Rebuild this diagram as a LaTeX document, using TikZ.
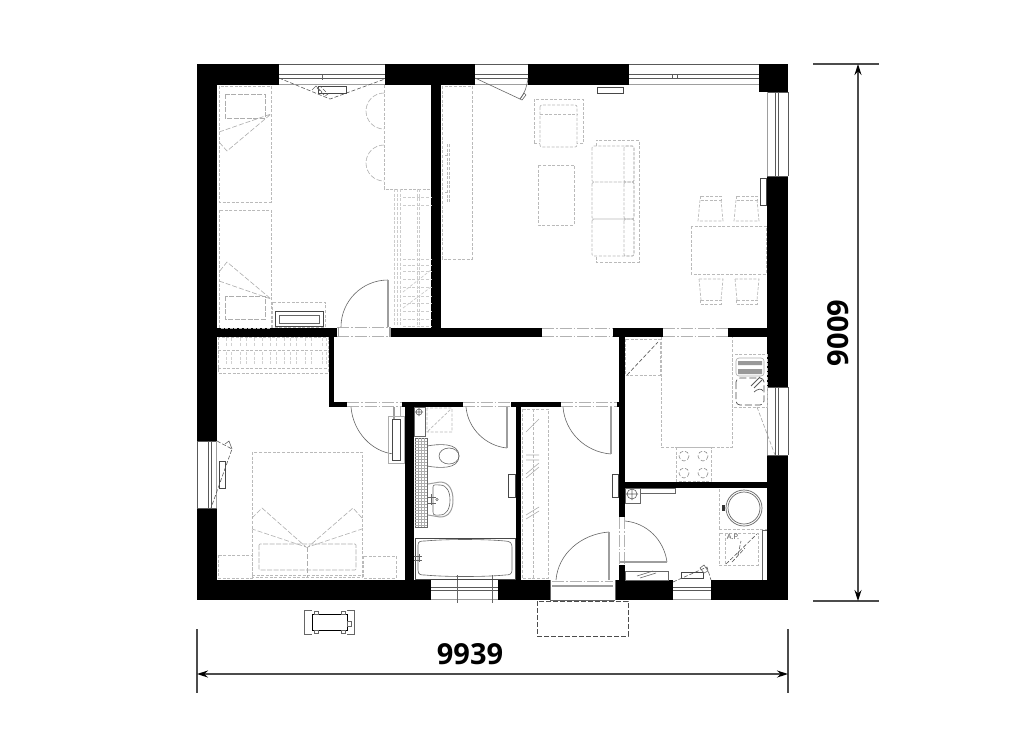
\documentclass[tikz,border=0pt]{standalone}
\usepackage{fontspec}
\setmainfont{Open Sans}
\usetikzlibrary{arrows.meta}
\tikzset{
 wall/.style={fill=black,draw=none},
 fur/.style={draw=black!27,line width=.7pt,dash pattern=on 3pt off 1.6pt},
 furd/.style={draw=black!27,line width=1pt,dash pattern=on 3pt off 1.6pt},
 fine/.style={draw=black!60,line width=.6pt},
 soft/.style={draw=black!32,line width=.6pt},
 dk/.style={draw=black!72,line width=.9pt},
 leaf/.style={draw=black!38,line width=1.2pt},
 thr/.style={draw=black!30,line width=1pt,dash pattern=on 12pt off 2pt on 1.5pt off 2pt},
 win/.style={draw=black!65,line width=.7pt},
 swing/.style={draw=black!65,line width=.6pt,dash pattern=on 4pt off 2pt},
 dim/.style={draw=black!70,line width=1.1pt},
 dimtip/.style={dim,{Stealth[length=11pt,width=7pt,black]}-{Stealth[length=11pt,width=7pt,black]}},
 numb/.style={font=\fontsize{29}{29}\selectfont\bfseries,inner sep=0pt,text=black}
}
\begin{document}
\begin{tikzpicture}[x=1pt,y=-1pt]
\useasboundingbox (0,0) rectangle (1017,745);
\fill[white] (0,0) rectangle (1017,745);
% ---- walls
\fill[wall] (197,64) rectangle (279,85);
\fill[wall] (385,64) rectangle (475,85);
\fill[wall] (528,64) rectangle (629,85);
\fill[wall] (759,64) rectangle (788,92);
\fill[wall] (197,64) rectangle (217,441);
\fill[wall] (197,508) rectangle (217,600);
\fill[wall] (767,176) rectangle (788,387);
\fill[wall] (767,455) rectangle (788,600);
\fill[wall] (197,580) rectangle (431,600);
\fill[wall] (498,580) rectangle (550,600);
\fill[wall] (615,580) rectangle (673,600);
\fill[wall] (711,580) rectangle (788,600);
\fill[wall] (431,85) rectangle (441,337);
\fill[wall] (217,327.5) rectangle (337,337);
\fill[wall] (391,327.5) rectangle (542,337);
\fill[wall] (613,327.5) rectangle (663,337);
\fill[wall] (728,327.5) rectangle (767,337);
\fill[wall] (329,337) rectangle (334,407);
\fill[wall] (329,402) rectangle (347,407);
\fill[wall] (402,402) rectangle (463,407);
\fill[wall] (511,402) rectangle (561,407);
\fill[wall] (617,402) rectangle (625,407);
\fill[wall] (405,402) rectangle (414,580);
\fill[wall] (516,402) rectangle (521,580);
\fill[wall] (619,337) rectangle (625,517);
\fill[wall] (619,565) rectangle (625,580);
\fill[wall] (625,482) rectangle (767,488);
% ---- windows
\foreach \a/\b in {279/385,475/528,629/759}{
 \draw[win] (\a,64)--(\b,64) (\a,74)--(\b,74) (\a,78)--(\b,78);
 \draw[leaf] (\a,84.5)--(\b,84.5);}
\draw[win] (672.5,74.5) rectangle (677,78);
\foreach \a/\b in {92/176,387/455}{
 \draw[win] (788,\a)--(788,\b) (775.5,\a)--(775.5,\b) (778.5,\a)--(778.5,\b) (767,\a)--(788,\a) (767,\b)--(788,\b);
 \draw[leaf] (767.5,\a)--(767.5,\b);}
\draw[win] (197,441)--(197,508) (208,441)--(208,508) (211,441)--(211,508) (197,441)--(217,441) (197,508)--(217,508);
\draw[leaf] (216.5,441)--(216.5,508);
\foreach \a/\b in {431/498,673/711}{
 \draw[leaf] (\a,599.5)--(\b,599.5);
 \draw[win] (\a,587)--(\b,587) (\a,590)--(\b,590);}
\draw[fine] (457,575)--(457,603) (492,575)--(492,603);
% ---- door thresholds
\foreach \a/\b/\y in {337/391/327.5,337/391/336.5,542/613/328,542/613/336.5,663/728/328,663/728/336.5,347/402/402.5,347/402/406.5,463/511/402.5,463/511/406.5,561/617/402.5,561/617/406.5}{
 \draw[thr] (\a,\y)--(\b,\y);}
\draw[leaf] (338.5,327)--(338.5,337) (390,327)--(390,337);
\draw[thr] (619.5,517)--(619.5,565) (624.5,517)--(624.5,565);
\draw[fine] (550,580)--(550,600) (615,580)--(615,600);
\draw[leaf] (552,586)--(613,586);
\draw[thr] (552,581)--(613,581);
\draw[fine] (550,600)--(615,600);
% ---- doors
\draw[fine] (341,327) arc[start angle=180,end angle=270,radius=47];
\draw[leaf] (388,280)--(388,327);
\draw[fine] (351,407) .. controls (353,432) and (372,452) .. (394,454);
\draw[leaf] (394,407)--(394,454);
\draw[fine] (466,407) .. controls (468,429) and (486,446) .. (507,448);
\draw[leaf] (507,407)--(507,448);
\draw[fine] (563,407) .. controls (565,432) and (585,452) .. (611,454);
\draw[leaf] (611,407)--(611,454);
\draw[fine] (556,580) .. controls (558,554) and (581,534) .. (609,532);
\draw[leaf] (609,532)--(609,580);
\draw[fine] (625,521) .. controls (647,523) and (664,540) .. (667,562);
\draw[leaf] (620,562)--(667,562);
\draw[fine] (475,78)--(520,99) (520,99) .. controls (525,93) and (527,86) .. (528,78);
\draw[fine] (520,99)--(524,93)--(526,95)--(522,100)--cycle;
% ---- radiators
\foreach \a/\b/\c/\d in {318/86/346/93,597/87/623/93,760/178/766/205,219/461/225/488,392/419/400/460,508/474/515/497,612/474/618/497,681/572/703/578}{
 \draw[dk,fill=white] (\a,\b) rectangle (\c,\d);}
\draw[fine] (322,75)--(322,80);
\draw[soft] (388,416) rectangle (404,463);
\draw[soft] (400,407)--(400,416);
% ---- window swings
\draw[swing] (279,78)--(330,99)--(385,79);
\draw[swing] (317,88)--(325,96)--(328,94)--(320,86);
\draw[fine] (312,90)--(316,86)--(322,92);
\draw[swing] (217,441)--(232,449)--(211,508);
\draw[fine] (225,444)--(229,441)--(232,449);
\draw[swing] (673,582)--(707,567)--(711,580);
\draw[fine] (700,568)--(704,565)--(708,571)--(704,573)--cycle;
\draw[swing,draw=black!35] (757,407)--(775,455);
% ---- bedroom 1
\draw[fur] (219,86) rectangle (271,202) (219,210) rectangle (271,328);
\draw[soft,dash pattern=on 5pt off 1.5pt] (225,94) rectangle (265,118) (225,296) rectangle (265,319);
\draw[soft,dash pattern=on 5pt off 2pt] (219,132)--(271,114)--(227,151)--(219,142);
\draw[soft,dash pattern=on 5pt off 2pt] (219,281)--(271,299)--(227,262)--(219,272);
\draw[furd] (272,302) rectangle (325,327);
\draw[dk] (275,311) rectangle (323,326);
\draw[fine] (279,315) rectangle (319,323);
\draw[soft,dash pattern=on 5pt off 2pt] (384,93) arc[start angle=-90,end angle=-270,radius=18];
\draw[soft,dash pattern=on 5pt off 2pt] (384,145) arc[start angle=-90,end angle=-270,radius=18];
\draw[fur] (384,85)--(384,189)--(431,189);
\foreach \x in {394,397,400,417,419}{\draw[fur,draw=black!20] (\x,189)--(\x,327);}
\foreach \y in {197,205,259,265,271,279,287,296,303,311,319,326}{\draw[fur,draw=black!20] (403,\y)--(431,\y);}
\draw[fur,draw=black!20] (403,292)--(431,270) (403,308)--(431,287);
% ---- living
\draw[fur] (442,86) rectangle (472,259);
\draw[fur] (447,144)--(447,203) (449.5,144)--(449.5,203) (445,155)--(447,155) (445,192)--(447,192);
\draw[fur] (534,143)--(534,99)--(583,99)--(583,143) (534,143)--(540,143) (583,143)--(577,143);
\draw[fur,rounded corners=2pt] (540,105) rectangle (577,147);
\draw[fur] (540,114)--(577,114);
\draw[fur] (538,165) rectangle (574,225);
\draw[fur] (596,146)--(596,140)--(639,140)--(639,262)--(596,262)--(596,256);
\draw[fur,rounded corners=1.5pt] (592,146) rectangle (634,182) (592,182) rectangle (634,219) (592,219) rectangle (634,256);
\draw[fur,rounded corners=2pt] (624,146) rectangle (634,182) (624,182) rectangle (634,219) (624,219) rectangle (634,256);
\draw[fur] (691,226) rectangle (766,274);
\foreach \x in {0,36}{
 \draw[fur] (700+\x,196) rectangle (721+\x,200);
 \draw[fur] (700+\x,200)--(698+\x,221)--(723+\x,221)--(721+\x,200);
 \draw[fur] (700+\x,300) rectangle (721+\x,304);
 \draw[fur] (699+\x,279)--(723+\x,279)--(721+\x,300) (699+\x,279)--(701+\x,300);}
% ---- bedroom 2
\draw[fur] (218,337) rectangle (328,373);
\draw[fur] (218,368)--(328,368) (218,350)--(328,350);
\foreach \x in {226,231,240,246,254,262,270,276,284,290,296,305,311,322,326}{\draw[fur,draw=black!18] (\x,338)--(\x,347) (\x,352)--(\x,365);}
\draw[fur] (252,452) rectangle (362,577);
\draw[fur] (252,575)--(362,575);
\draw[soft,dash pattern=on 5pt off 1.5pt,rounded corners=1pt] (259,544) rectangle (356,570);
\draw[soft,dash pattern=on 5pt off 2pt] (307,547)--(307,577);
\draw[soft,dash pattern=on 5pt off 2pt] (252,518)--(262,508)--(306,547)--(252,529);
\draw[soft,dash pattern=on 5pt off 2pt] (362,518)--(353,508)--(308,547)--(362,529);
\draw[fur] (218,555) rectangle (252,578) (363,556) rectangle (396,578);
% ---- bathroom
\draw[fine,fill=white] (414,407) rectangle (425,436);
\draw[fine] (419,412) circle[radius=3] (415,412)--(423,412) (419,408)--(419,416);
\draw[fur] (427,408) rectangle (452,432) (428,431)--(451,409);
\draw[fine] (415,438) rectangle (427,527);
\foreach \x in {418,421,424}{\draw[soft] (\x,438)--(\x,527);}
\foreach \y in {441,444,447,450,453,456,459,462,465,468,471,474,477,480,483,486,489,492,495,498,501,504,507,510,513,516,519,522,525}{\draw[soft] (415,\y)--(427,\y);}
\draw[fine] (427,446) .. controls (438,444) and (459,442) .. (459,456) .. controls (459,470) and (438,468) .. (427,466);
\draw[fine] (449,456) ellipse[x radius=10,y radius=8];
\draw[leaf,line width=1pt] (428,484) -- (440,482) .. controls (449,482) and (453,490) .. (453,500) .. controls (453,510) and (449,517) .. (440,517) -- (428,515);
\draw[fine] (433,487) .. controls (433,484) and (436,485) .. (440,485) .. controls (447,485) and (450,492) .. (450,500) .. controls (450,508) and (447,515) .. (440,515) .. controls (436,515) and (433,516) .. (433,512) -- cycle;
\draw[fine] (427,497)--(436,497) (427,503)--(436,503) (431,494)--(431,505);
\draw[fine] (437,499.5) circle[radius=1.3];
\draw[dk] (415,538) rectangle (515,579);
\draw[fine] (418,545) .. controls (418,541) and (421,541) .. (425,541) .. controls (445,539) and (485,539) .. (505,541) .. controls (510,541) and (512,543) .. (512,547) -- (512,570) .. controls (512,574) and (510,575) .. (505,575) .. controls (485,577) and (445,577) .. (425,575) .. controls (421,575) and (418,575) .. (418,570) -- cycle;
\draw[fine] (414,556)--(422,556) (414,560)--(422,560) (419,554)--(419,562);
% ---- hall
\draw[furd] (522,409) rectangle (548,578);
\draw[fur] (533,409)--(533,578);
\draw[soft] (526,432)--(539,419) (526,455)--(539,455) (526,460)--(539,460) (526,474)--(539,463) (526,478)--(539,467) (526,515)--(539,507) (526,519)--(539,511);
\draw[draw=black!70,line width=.7pt,dash pattern=on 5pt off 2pt] (537,601) rectangle (628,636);
% ---- kitchen
\draw[fur] (625,339) rectangle (660,375);
\draw[swing] (627,375)--(658,342);
\draw[fur] (661,337)--(661,447)--(732,447)--(732,337);
\draw[fur] (676,447) rectangle (711,481);
\foreach \x/\y in {684/456,703/456,684/473,703/473}{\draw[swing,draw=black!45] (\x,\y) circle[radius=5];}
\draw[fur] (732,354) rectangle (767,407);
\draw[soft,rounded corners=3pt] (736,358) rectangle (764,376);
\fill[black!40] (738,361) rectangle (762,365) (738,369) rectangle (762,374);
\draw[black!70,line width=.7pt,dash pattern=on 7pt off 3pt,rounded corners=4pt] (736,378) rectangle (764,405);
\draw[black!65,line width=.8pt] (751,386)--(760,377) (754,388)--(762,380);
\draw[black!65,line width=.7pt] (754,392) .. controls (757,389) and (762,388) .. (763,391);
% ---- utility
\draw[fine] (625,488) rectangle (640,503);
\draw[fine] (632,494) circle[radius=5] (626,494)--(638,494) (632,488)--(632,500);
\draw[fine] (640,488) rectangle (675,493);
\draw[furd] (719,529)--(719,488) (719,529)--(767,529);
\draw[black!60,line width=.7pt] (744,508) circle[radius=18] (744,508) circle[radius=16];
\fill[black!80] (722,505) rectangle (725,511);
\draw[fur] (719,533) rectangle (758,565);
\draw[fur] (725,533)--(725,565);
\draw[swing] (726,564)--(757,534);
\draw[swing] (732,562)--(745,548) (738,555)--(741,541);
\draw[fine] (762,530)--(762,580) (767,530)--(762,530);
\draw[fine] (625,571) rectangle (668,580);
\draw[fine] (637,576)--(653,571) (640,578)--(656,573);
\node (ap) at (733,537) [inner sep=0pt,font=\fontsize{7.5}{8}\selectfont,text=black!70] {A.P.};
% ---- car
\draw[fine] (312,610)--(304,610)--(304,634)--(312,634) (347,610)--(354,610)--(354,634)--(347,634);
\draw[black,line width=.9pt] (312,614) rectangle (347,630);
\draw[fine] (347,621) rectangle (351,626);
\draw[fine] (314,611) rectangle (318,614) (341,611) rectangle (345,614) (314,630) rectangle (318,633) (341,630) rectangle (345,633);
% ---- dimensions
\coordinate (hl) at (197,674); \coordinate (hr) at (788,674);
\coordinate (vt) at (858,64); \coordinate (vb) at (858,601);
\coordinate (hla) at (197,629); \coordinate (hlb) at (197,693);
\coordinate (hra) at (788,629); \coordinate (hrb) at (788,693);
\coordinate (vta) at (813,64); \coordinate (vtb) at (879,64);
\coordinate (vba) at (813,601); \coordinate (vbb) at (879,601);
\draw[dim] (hla)--(hlb); \draw[dim] (hra)--(hrb);
\draw[dim] (vta)--(vtb); \draw[dim] (vba)--(vbb);
\draw[dimtip] (hl)--(hr);
\draw[dimtip] (vt)--(vb);
\node[numb] (w) at (470,654) {9939};
\node[numb,rotate=90] (h) at (838,333) {9009};
\end{tikzpicture}
\end{document}
